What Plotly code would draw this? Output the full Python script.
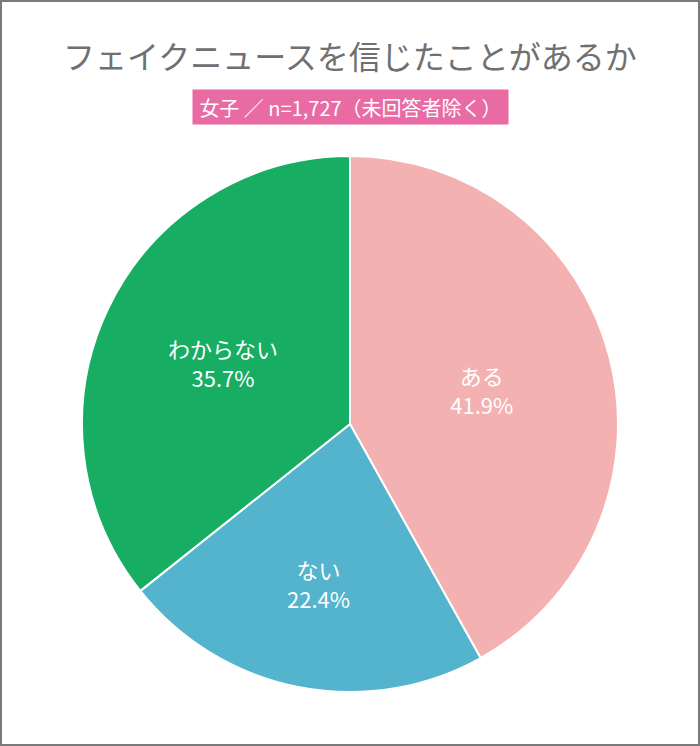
import plotly.graph_objects as go

labels = ["ある", "ない", "わからない"]
values = [41.9, 22.4, 35.7]
colors = ["#F4B1B1", "#54B4CE", "#17AD63"]
title_text = "フェイクニュースを信じたことがあるか"
subtitle_text = "女子 ／ n=1,727（未回答者除く）"

W, H = 700, 746
cx, cy, r = 350, 424, 268

fig = go.Figure(go.Pie(
    labels=labels,
    values=values,
    marker=dict(colors=colors, line=dict(color="white", width=2)),
    sort=False,
    direction="clockwise",
    rotation=0,
    texttemplate="%{label}<br>%{value:.1f}%",
    textposition="inside",
    insidetextorientation="horizontal",
    textfont=dict(color="white", size=22, family="Noto Sans CJK JP"),
    hoverinfo="label+value",
    showlegend=False,
    domain=dict(x=[(cx - r) / W, (cx + r) / W], y=[1 - (cy + r) / H, 1 - (cy - r) / H]),
))

fig.update_layout(
    width=W, height=H,
    margin=dict(l=0, r=0, t=0, b=0),
    paper_bgcolor="white",
    plot_bgcolor="white",
    font=dict(family="Noto Sans CJK JP"),
    shapes=[dict(type="rect", xref="paper", yref="paper",
                 x0=1 / W, x1=1 - 1 / W, y0=1 / H, y1=1 - 1 / H,
                 line=dict(color="#7a7a7a", width=2))],
    annotations=[
        dict(text=title_text, x=0.5, y=1 - 55 / H, xref="paper", yref="paper",
             showarrow=False, xanchor="center", yanchor="middle",
             font=dict(size=32, color="#707070", family="Noto Sans CJK JP")),
        dict(text=subtitle_text, x=0.5, y=1 - 107 / H, xref="paper", yref="paper",
             showarrow=False, xanchor="center", yanchor="middle",
             bgcolor="#E96BA4", borderpad=4, width=307, height=26,
             font=dict(size=20, color="white", family="Noto Sans CJK JP")),
    ],
)

fig.write_html("out.html")
